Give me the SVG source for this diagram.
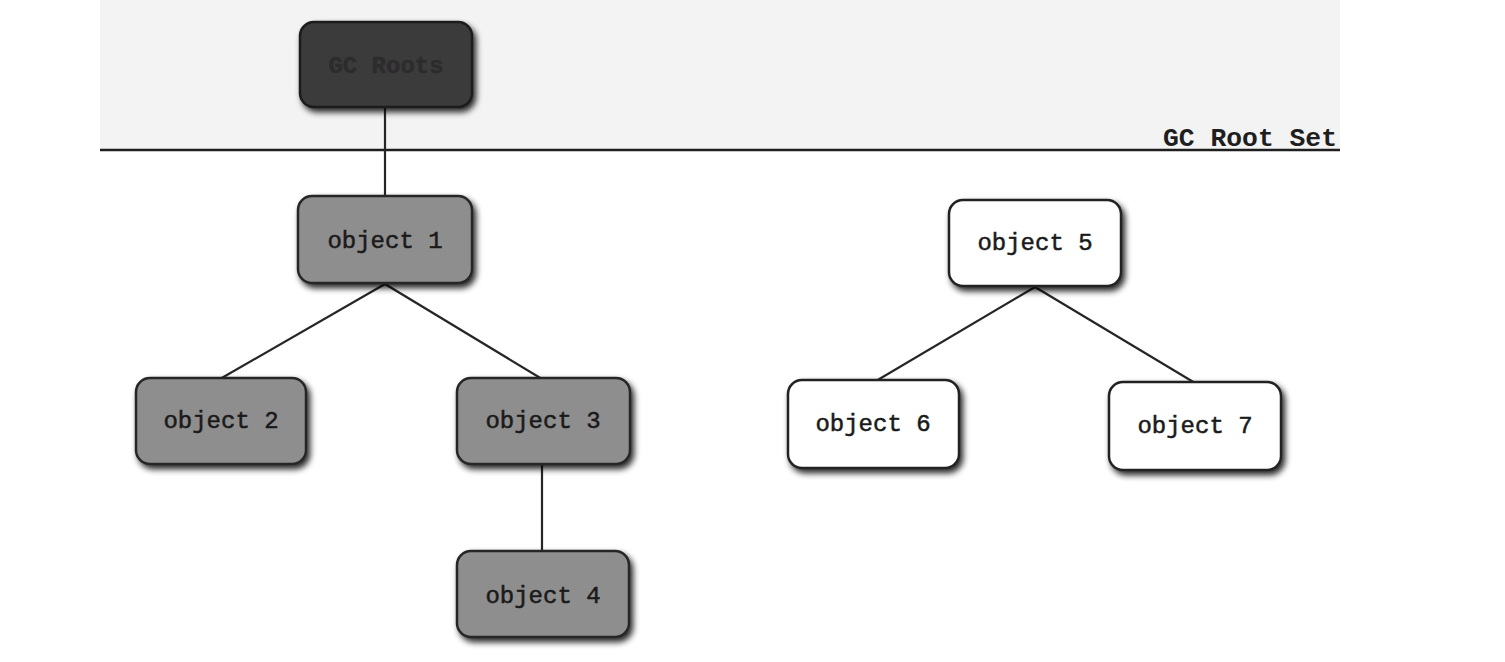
<svg xmlns="http://www.w3.org/2000/svg" width="1505" height="662" viewBox="0 0 1505 662">
  <defs>
    <filter id="sh" x="-20%" y="-20%" width="140%" height="150%">
      <feGaussianBlur in="SourceAlpha" stdDeviation="3"/>
      <feOffset dx="3" dy="4" result="b"/>
      <feComponentTransfer><feFuncA type="linear" slope="0.85"/></feComponentTransfer>
      <feMerge><feMergeNode/><feMergeNode in="SourceGraphic"/></feMerge>
    </filter>
    <style>
      .box { stroke-width: 2.5; filter: url(#sh); }
      .root { fill: #3b3b3b; stroke: #1a1a1a; }
      .live { fill: #8e8e8e; stroke: #262626; }
      .dead { fill: #ffffff; stroke: #222222; }
      .lbl { font-family: "Liberation Mono", "DejaVu Sans Mono", monospace; font-size: 24px; text-anchor: middle; dominant-baseline: central; fill: #1a1a1a; stroke: #1a1a1a; stroke-width: 0.5; }
      .rootlbl { fill: #2c2c2c; stroke: #2c2c2c; font-weight: bold; }
      .edge { stroke: #262626; stroke-width: 2.2; fill: none; }
    </style>
  </defs>

  <rect x="0" y="0" width="1505" height="662" fill="#ffffff"/>
  <rect x="100" y="0" width="1240" height="150" fill="#f3f3f3"/>

  <g id="rootset">
    <line x1="100" y1="150" x2="1340" y2="150" stroke="#1e1e1e" stroke-width="2.5"/>
    <text x="1337" y="146" font-family="Liberation Mono, DejaVu Sans Mono, monospace" font-size="25" font-weight="bold" text-anchor="end" fill="#1e1e1e" textLength="174" lengthAdjust="spacingAndGlyphs">GC Root Set</text>
  </g>

  <g id="connectors">
    <line class="edge" x1="385" y1="108" x2="385" y2="197"/>
    <line class="edge" x1="385" y1="284" x2="220" y2="379"/>
    <line class="edge" x1="385" y1="284" x2="542" y2="379"/>
    <line class="edge" x1="542" y1="465" x2="542" y2="552"/>
    <line class="edge" x1="1035" y1="287" x2="876" y2="381"/>
    <line class="edge" x1="1035" y1="287" x2="1195" y2="383"/>
  </g>

  <g id="gc-roots">
    <rect class="box root" x="300" y="22" width="172" height="85" rx="14"/>
    <text class="lbl rootlbl" x="386" y="66">GC Roots</text>
  </g>
  <g id="object1">
    <rect class="box live" x="298" y="196" width="174" height="87" rx="14"/>
    <text class="lbl" x="385" y="241">object 1</text>
  </g>
  <g id="object2">
    <rect class="box live" x="136" y="378" width="170" height="86" rx="14"/>
    <text class="lbl" x="221" y="421">object 2</text>
  </g>
  <g id="object3">
    <rect class="box live" x="457" y="378" width="173" height="86" rx="14"/>
    <text class="lbl" x="543" y="421">object 3</text>
  </g>
  <g id="object4">
    <rect class="box live" x="457" y="551" width="172" height="86" rx="14"/>
    <text class="lbl" x="543" y="596">object 4</text>
  </g>
  <g id="object5">
    <rect class="box dead" x="949" y="200" width="172" height="86" rx="14"/>
    <text class="lbl" x="1035" y="243">object 5</text>
  </g>
  <g id="object6">
    <rect class="box dead" x="788" y="380" width="171" height="88" rx="14"/>
    <text class="lbl" x="873" y="424">object 6</text>
  </g>
  <g id="object7">
    <rect class="box dead" x="1109" y="382" width="172" height="88" rx="14"/>
    <text class="lbl" x="1195" y="426">object 7</text>
  </g>
</svg>
